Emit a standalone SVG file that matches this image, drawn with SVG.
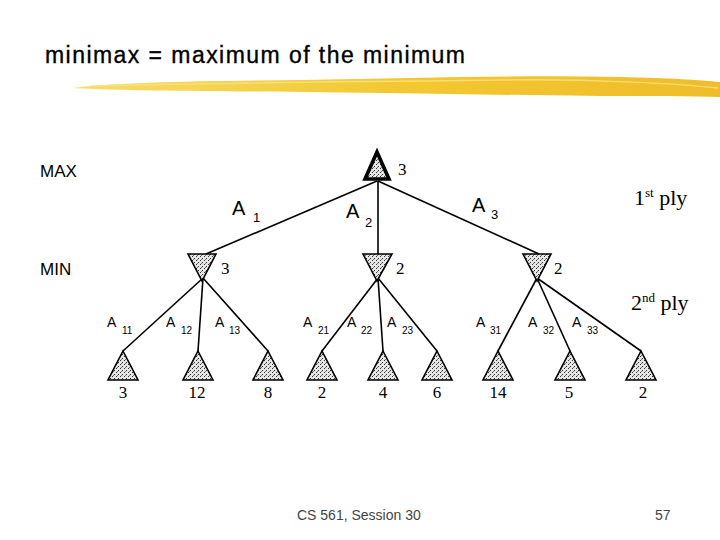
<svg xmlns="http://www.w3.org/2000/svg" width="720" height="540" viewBox="0 0 720 540">
<style>
.sans{font-family:"Liberation Sans",Arial,sans-serif;fill:#000}
.serif{font-family:"Liberation Serif","Times New Roman",serif;fill:#000}
.edge{stroke:#000;stroke-width:1.6;fill:none}
.node{fill:url(#stip);stroke:#000;stroke-width:1.6;stroke-linejoin:miter}
.val{font-family:"Liberation Serif","Times New Roman",serif;font-size:17px;fill:#000}
.lbl{font-family:"Liberation Sans",Arial,sans-serif;font-size:14px;fill:#000}
.sub{font-family:"Liberation Sans",Arial,sans-serif;font-size:10px;fill:#000}
</style>
<defs>
<pattern id="stip" width="4" height="4" patternUnits="userSpaceOnUse">
<rect width="4" height="4" fill="#e6e6e6"/>
<rect x="0" y="0" width="1" height="1" fill="#333"/>
<rect x="2" y="2" width="1" height="1" fill="#333"/>
<rect x="1" y="3" width="1" height="1" fill="#777"/>
</pattern>
<linearGradient id="brush" x1="0" y1="0" x2="1" y2="0">
<stop offset="0" stop-color="#f7dc6a"/>
<stop offset="0.5" stop-color="#f2c832"/>
<stop offset="1" stop-color="#efbd2a"/>
</linearGradient>
</defs>

<g id="title">
<text class="sans" x="45" y="63" font-size="23" stroke="#000" stroke-width="0.35" textLength="420" lengthAdjust="spacing">minimax = maximum of the minimum</text>
<path d="M73,88 C120,82 200,81 300,80 C420,78 520,75 620,77 C670,78 700,80 720,82 L720,97 C690,96 650,96 600,96 C500,95 400,93 300,92 C200,91 130,91 73,88 Z" fill="url(#brush)"/>
<path d="M90,86 C200,83 350,82 500,80 C600,79 680,84 718,88" stroke="#f9e28a" stroke-width="1.5" fill="none" opacity="0.8"/>
</g>

<g id="level-labels">
<text class="sans" x="40" y="177" font-size="17">MAX</text>
<text class="sans" x="40" y="275" font-size="17">MIN</text>
<text class="serif" x="634" y="205" font-size="22">1<tspan font-size="13" dy="-8">st</tspan><tspan dy="8"> ply</tspan></text>
<text class="serif" x="631" y="310" font-size="22">2<tspan font-size="13" dy="-8">nd</tspan><tspan dy="8"> ply</tspan></text>
</g>

<g id="connectors">
<line class="edge" x1="377" y1="181" x2="206" y2="254"/>
<line class="edge" x1="378" y1="181" x2="378" y2="254"/>
<line class="edge" x1="378" y1="181" x2="539" y2="254"/>
<line class="edge" x1="203" y1="278" x2="123" y2="351"/>
<line class="edge" x1="203" y1="278" x2="198" y2="351"/>
<line class="edge" x1="203" y1="278" x2="268" y2="351"/>
<line class="edge" x1="378" y1="278" x2="322" y2="351"/>
<line class="edge" x1="378" y1="278" x2="383" y2="351"/>
<line class="edge" x1="378" y1="278" x2="437" y2="351"/>
<line class="edge" x1="537" y1="278" x2="498" y2="351"/>
<line class="edge" x1="537" y1="278" x2="570" y2="351"/>
<line class="edge" x1="537" y1="278" x2="641" y2="351"/>
</g>

<g id="edge-labels">
<text class="sans" x="232" y="215" font-size="20">A</text><text class="sans" x="253" y="222" font-size="13">1</text>
<text class="sans" x="346" y="218" font-size="20">A</text><text class="sans" x="365" y="227" font-size="13">2</text>
<text class="sans" x="472" y="212" font-size="20">A</text><text class="sans" x="491" y="219" font-size="13">3</text>
<text class="lbl" x="107" y="327">A</text><text class="sub" x="122" y="334">11</text>
<text class="lbl" x="166" y="327">A</text><text class="sub" x="181" y="334">12</text>
<text class="lbl" x="215" y="327">A</text><text class="sub" x="229" y="334">13</text>
<text class="lbl" x="303" y="327">A</text><text class="sub" x="318" y="334">21</text>
<text class="lbl" x="347" y="327">A</text><text class="sub" x="361" y="334">22</text>
<text class="lbl" x="387" y="327">A</text><text class="sub" x="402" y="334">23</text>
<text class="lbl" x="476" y="327">A</text><text class="sub" x="490" y="334">31</text>
<text class="lbl" x="528" y="327">A</text><text class="sub" x="543" y="334">32</text>
<text class="lbl" x="572" y="327">A</text><text class="sub" x="587" y="334">33</text>
</g>

<g id="root">
<polygon class="node" points="377,152 389,179 365,179" style="stroke-width:3.6"/>
<text class="val" x="398" y="175">3</text>
</g>

<g id="min1">
<polygon class="node" points="188,254 216,254 202,281"/>
<text class="val" x="221" y="274">3</text>
</g>
<g id="min2">
<polygon class="node" points="363,254 392,254 377,281"/>
<text class="val" x="396" y="274">2</text>
</g>
<g id="min3">
<polygon class="node" points="523,254 551,254 537,281"/>
<text class="val" x="554" y="274">2</text>
</g>

<g id="leaf11"><polygon class="node" points="123,351 138,380 108,380"/><text class="val" x="123" y="398" text-anchor="middle">3</text></g>
<g id="leaf12"><polygon class="node" points="198,351 213,380 183,380"/><text class="val" x="197" y="398" text-anchor="middle">12</text></g>
<g id="leaf13"><polygon class="node" points="268,351 283,380 253,380"/><text class="val" x="268" y="398" text-anchor="middle">8</text></g>
<g id="leaf21"><polygon class="node" points="322,351 337,380 307,380"/><text class="val" x="322" y="398" text-anchor="middle">2</text></g>
<g id="leaf22"><polygon class="node" points="383,351 398,380 368,380"/><text class="val" x="383" y="398" text-anchor="middle">4</text></g>
<g id="leaf23"><polygon class="node" points="437,351 452,380 422,380"/><text class="val" x="437" y="398" text-anchor="middle">6</text></g>
<g id="leaf31"><polygon class="node" points="498,351 513,380 483,380"/><text class="val" x="498" y="398" text-anchor="middle">14</text></g>
<g id="leaf32"><polygon class="node" points="570,351 585,380 555,380"/><text class="val" x="569" y="398" text-anchor="middle">5</text></g>
<g id="leaf33"><polygon class="node" points="641,351 656,380 626,380"/><text class="val" x="643" y="398" text-anchor="middle">2</text></g>

<g id="footer">
<text class="sans" x="297" y="520" font-size="14" style="fill:#444">CS 561, Session 30</text>
<text class="sans" x="655" y="520" font-size="14" style="fill:#444">57</text>
</g>
</svg>
